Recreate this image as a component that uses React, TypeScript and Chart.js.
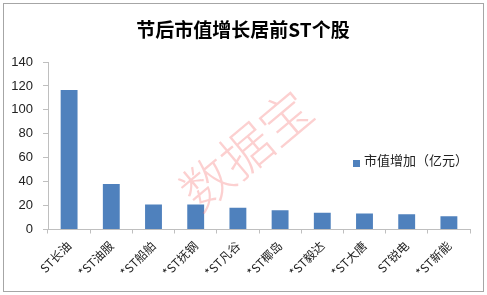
import React, { useEffect, useRef } from "react";
import { Chart, registerables } from "chart.js";

Chart.register(...registerables);

const categories = ["ST长油", "*ST油服", "*ST船舶", "*ST抚钢", "*ST凡谷", "*ST椰岛", "*ST毅达", "*ST大唐", "ST锐电", "*ST新能"];
const values = [116.5, 38, 21, 21, 18.2, 16, 14, 13.3, 12.8, 11];
const seriesName = "市值增加（亿元）";
const titleText = "节后市值增长居前ST个股";
const watermark = "数据宝";

const FONT = "'Noto Sans CJK SC', 'Liberation Sans', sans-serif";

const decorPlugin = {
  id: "decor",
  beforeDraw(chart: any) {
    const ctx = chart.ctx;
    ctx.save();
    ctx.fillStyle = "#ffffff";
    ctx.fillRect(0, 0, chart.width, chart.height);
    ctx.strokeStyle = "#a6a6a6";
    ctx.lineWidth = 1;
    ctx.strokeRect(3.5, 3.5, 480, 288);
    ctx.fillStyle = "#000";
    ctx.font = `bold 19px ${FONT}`;
    ctx.textAlign = "center";
    ctx.textBaseline = "middle";
    ctx.fillText(titleText, 243, 30);
    ctx.restore();
  },
  afterDraw(chart: any) {
    const ctx = chart.ctx;
    ctx.save();
    // legend
    ctx.fillStyle = "#4F81BD";
    ctx.fillRect(353, 160, 7, 7);
    ctx.fillStyle = "#222";
    ctx.font = `13px ${FONT}`;
    ctx.textAlign = "left";
    ctx.textBaseline = "middle";
    ctx.fillText(seriesName, 364, 160);
    // watermark
    ctx.translate(246, 150);
    ctx.rotate(-40 * Math.PI / 180);
    ctx.fillStyle = "rgba(245, 120, 120, 0.35)";
    ctx.font = `300 51px ${FONT}`;
    ctx.textAlign = "center";
    ctx.textBaseline = "middle";
    ctx.fillText(watermark, 0, 0);
    ctx.restore();
  },
};

export default function App() {
  const ref = useRef<HTMLCanvasElement | null>(null);
  useEffect(() => {
    document.body.style.margin = "0";
    const chart = new Chart(ref.current as HTMLCanvasElement, {
      type: "bar",
      data: {
        labels: categories,
        datasets: [
          {
            label: seriesName,
            data: values,
            backgroundColor: "#4F81BD",
            barPercentage: 0.4,
            categoryPercentage: 1,
          },
        ],
      },
      options: {
        animation: false,
        responsive: false,
        layout: { padding: { left: 0, top: 62, right: 17, bottom: 0 } },
        plugins: { legend: { display: false }, tooltip: { enabled: false }, title: { display: false } },
        scales: {
          x: {
            offset: true,
            grid: { display: true, drawOnChartArea: false, drawTicks: true, tickLength: 4, offset: true, color: "#bfbfbf" },
            border: { color: "#bfbfbf" },
            ticks: { maxRotation: 45, minRotation: 45, color: "#222", font: { family: FONT, size: 12 }, padding: 5 },
            afterFit(scale: any) {
              scale.height = 65.5;
              scale.paddingLeft = 0;
              scale.paddingRight = 0;
            },
          },
          y: {
            min: 0,
            max: 140,
            ticks: { stepSize: 20, color: "#222", font: { family: "'Liberation Sans', sans-serif", size: 13 }, padding: 10 },
            grid: { display: true, drawOnChartArea: false, drawTicks: true, tickLength: 5, color: "#bfbfbf" },
            border: { color: "#bfbfbf" },
            afterFit(scale: any) {
              scale.width = 48;
              scale.paddingTop = 0;
              scale.paddingBottom = 0;
            },
          },
        },
      },
      plugins: [decorPlugin],
    });
    return () => chart.destroy();
  }, []);
  return <canvas ref={ref} width={487} height={295} style={{ display: "block" }} />;
}
